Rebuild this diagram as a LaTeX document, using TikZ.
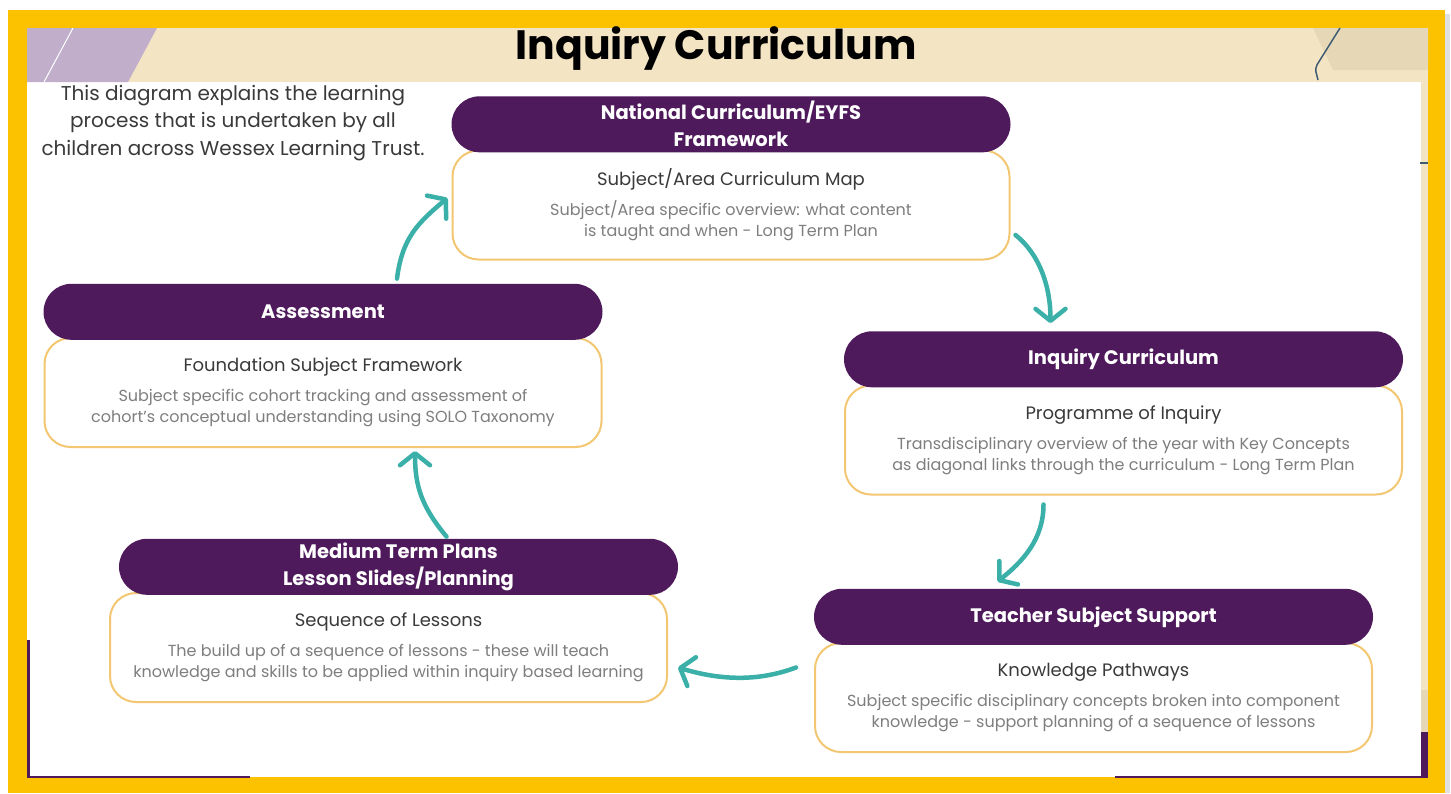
\documentclass[tikz,border=0pt]{standalone}
\usepackage{fontspec}
\setmainfont{Poppins}
\usepackage{xcolor}
\usepackage{tikz}
\usetikzlibrary{arrows.meta,positioning}
\definecolor{wltPurple}{HTML}{4E1A5C}
\definecolor{wltGold}{HTML}{F3C772}
\definecolor{wltTeal}{HTML}{3AB0A8}
\definecolor{wltYellow}{HTML}{FCC200}
\definecolor{wltSlate}{HTML}{3E5C74}
\definecolor{wltText}{HTML}{3A3A3A}
\definecolor{wltGrey}{HTML}{7E7E7E}
\definecolor{lightBeige}{HTML}{F3E4C3}
\definecolor{darkBeige}{HTML}{E6D7B6}
\definecolor{lightLilac}{HTML}{C0AECB}
\newcommand{\cardtitle}[1]{{\color{wltText}\fontsize{18pt}{21pt}\selectfont #1}}

\begin{document}
\begin{tikzpicture}[x=1pt, y=-1pt,
  head/.style={rectangle, rounded corners=28pt, fill=wltPurple, text=white, minimum width=559pt, minimum height=56pt, align=center, inner sep=0pt, font=\bfseries\fontsize{19.5pt}{27pt}\selectfont},
  card/.style={rectangle, rounded corners=26pt, draw=wltGold, line width=2pt, fill=white, minimum width=557pt, minimum height=109pt, align=center, text=wltGrey, font=\fontsize{16pt}{21pt}\selectfont},
  arrow/.style={draw=wltTeal, line width=4.5pt, line cap=round, -{Straight Barb[length=12pt, width=30pt, round]}}
]
\useasboundingbox (0,0) rectangle (1451,793);
% slide frame
\fill[white] (0,0) rectangle (1451,793);
\fill[black!12] (12,14) rectangle (1450,793);
\fill[wltYellow] (8,10) rectangle (1445,793);
\fill[white] (27,28) rectangle (1428,777);
\fill[lightBeige] (27,28) rectangle (1428,82);
\fill[lightBeige] (1421,82) rectangle (1428,690);
\fill[darkBeige] (1421,690) rectangle (1428,732);
\fill[wltPurple] (1421,732) rectangle (1428,778);
\fill[lightLilac] (27,28) -- (157,28) -- (128,82) -- (27,82) -- cycle;
\draw[white, line width=1pt] (73,28) -- (44,82);
\fill[darkBeige] (1313,28) -- (1428,28) -- (1428,70) -- (1333,70) -- cycle;
\draw[wltSlate, line width=1.5pt, rounded corners=4pt] (1340,28) -- (1315,68) -- (1318,80);
\draw[wltSlate, line width=1.5pt] (1420,163) -- (1428,163);
\fill[wltPurple] (27,640) rectangle (29.5,778);
\fill[wltPurple] (27,775.5) rectangle (250,778);
\fill[wltPurple] (1115,775.5) rectangle (1428,778);

\node[font=\bfseries\fontsize{41pt}{44pt}\selectfont, text=black] (title) at (716,49) {Inquiry Curriculum};
\node[align=center, text=wltText, font=\fontsize{20pt}{27.5pt}\selectfont] (intro) at (233,123) {This diagram explains the learning\\process that is undertaken by all\\children across Wessex Learning Trust.};

\node[card] (mapCard) at (731,205) {\cardtitle{Subject/Area Curriculum Map}\\[9pt]Subject/Area specific overview: what content\\is taught and when - Long Term Plan};
\node[head, above=-3pt of mapCard.north] (mapHead) {National Curriculum/EYFS\\Framework};

\node[card] (inqCard) at (1123.5,440) {\cardtitle{Programme of Inquiry}\\[9pt]Transdisciplinary overview of the year with Key Concepts\\as diagonal links through the curriculum - Long Term Plan};
\node[head, above=-3pt of inqCard.north] (inqHead) {Inquiry Curriculum};

\node[card] (teachCard) at (1093.5,697.5) {\cardtitle{Knowledge Pathways}\\[9pt]Subject specific disciplinary concepts broken into component\\knowledge - support planning of a sequence of lessons};
\node[head, above=-3pt of teachCard.north] (teachHead) {Teacher Subject Support};

\node[card] (medCard) at (388.5,647.5) {\cardtitle{Sequence of Lessons}\\[9pt]The build up of a sequence of lessons - these will teach\\knowledge and skills to be applied within inquiry based learning};
\node[head, above=-3pt of medCard.north, xshift=10pt] (medHead) {Medium Term Plans\\Lesson Slides/Planning};

\node[card] (assessCard) at (323,392.5) {\cardtitle{Foundation Subject Framework}\\[9pt]Subject specific cohort tracking and assessment of\\cohort's conceptual understanding using SOLO Taxonomy};
\node[head, above=-3pt of assessCard.north] (assessHead) {Assessment};

\draw[arrow] ([shift={(74,-5)}]assessHead.north) .. controls +(5,-40) and +(-30,25) .. ([shift={(-4,-7)}]mapCard.west);
\draw[arrow] ([shift={(5,30)}]mapCard.east) .. controls +(25,20) and +(0,-35) .. ([shift={(-73,-8)}]inqHead.north);
\draw[arrow] ([shift={(-80,9)}]inqCard.south) .. controls +(0,35) and +(25,-20) .. ([shift={(-96,-7)}]teachHead.north);
\draw[arrow] ([shift={(-18,-30)}]teachCard.west) .. controls +(-40,15) and +(40,12) .. ([shift={(10,20)}]medCard.east);
\draw[arrow] ([shift={(48,-2)}]medHead.north) .. controls +(-25,-30) and +(0,35) .. ([shift={(92,3)}]assessCard.south);
\end{tikzpicture}
\end{document}
